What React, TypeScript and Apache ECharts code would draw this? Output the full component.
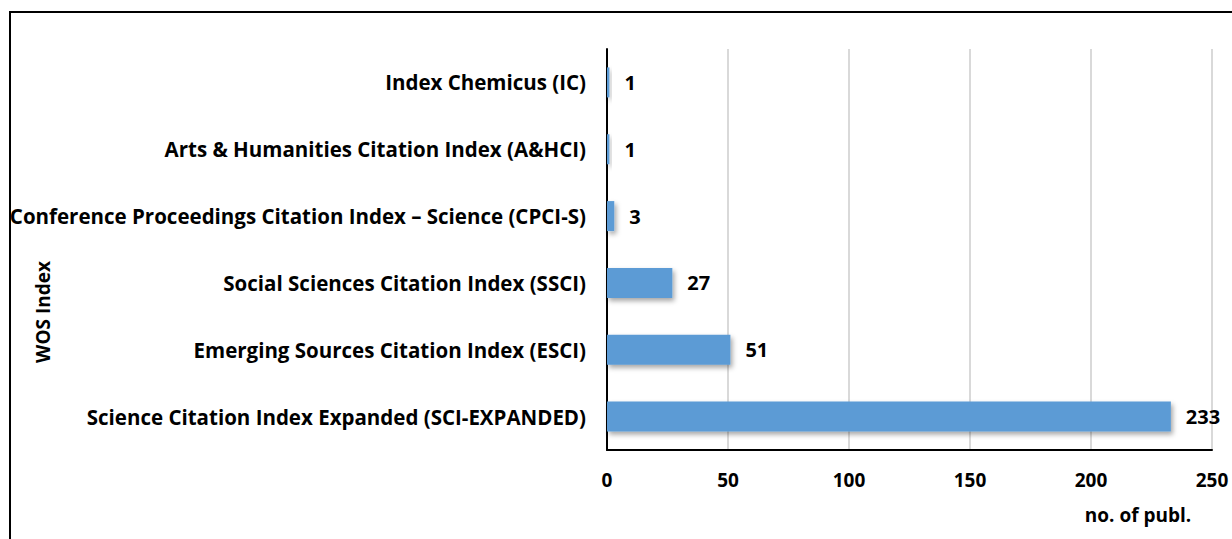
import React, { useEffect, useRef } from "react";
import * as echarts from "echarts";

const categories = [
  "Science Citation Index Expanded (SCI-EXPANDED)",
  "Emerging Sources Citation Index (ESCI)",
  "Social Sciences Citation Index (SSCI)",
  "Conference Proceedings Citation Index – Science (CPCI-S)",
  "Arts & Humanities Citation Index (A&HCI)",
  "Index Chemicus (IC)",
];
const publications = [233, 51, 27, 3, 1, 1];
const xTicks = [0, 50, 100, 150, 200, 250];

const FONT = "'Open Sans', sans-serif";
const FS = 19;

export default function App() {
  const ref = useRef<HTMLDivElement>(null);
  useEffect(() => {
    document.body.style.margin = "0";
    const chart = echarts.init(ref.current!, null, { renderer: "svg" });
    chart.setOption({
      animation: false,
      backgroundColor: "#ffffff",
      textStyle: { fontFamily: FONT },
      grid: { left: 607, right: 20, top: 49, bottom: 89, containLabel: false },
      xAxis: {
        type: "value",
        min: xTicks[0],
        max: xTicks[xTicks.length - 1],
        interval: 50,
        axisLine: { show: true, lineStyle: { color: "#000", width: 2 } },
        axisTick: { show: false },
        splitLine: { show: true, lineStyle: { color: "#d9d9d9", width: 2 } },
        axisLabel: {
          margin: 20,
          color: "#000",
          fontWeight: "bold",
          fontSize: FS,
          fontFamily: FONT,
        },
      },
      yAxis: {
        type: "category",
        data: categories,
        axisLine: { show: true, lineStyle: { color: "#000", width: 2 } },
        axisTick: { show: false },
        splitLine: { show: false },
        axisLabel: {
          margin: 21,
          color: "#000",
          fontWeight: "bold",
          fontSize: 20.5,
          fontFamily: FONT,
        },
      },
      series: [
        {
          type: "bar",
          data: publications,
          barWidth: 30,
          itemStyle: {
            color: "#5b9bd5",
            shadowColor: "rgba(0,0,0,0.35)",
            shadowBlur: 5,
            shadowOffsetX: 2,
            shadowOffsetY: 3,
          },
          label: {
            show: true,
            position: "right",
            distance: 15,
            color: "#000",
            fontWeight: "bold",
            fontSize: 20,
            fontFamily: FONT,
          },
        },
      ],
      graphic: [
        {
          type: "rect",
          shape: { x: 10, y: 12, width: 1240, height: 560 },
          style: { fill: "none", stroke: "#000", lineWidth: 2 },
          silent: true,
        },
        {
          type: "text",
          x: 43,
          y: 312,
          rotation: Math.PI / 2,
          style: {
            text: "WOS Index",
            fill: "#000",
            font: `bold ${FS}px ${FONT}`,
            align: "center",
            verticalAlign: "middle",
          },
        },
        {
          type: "text",
          x: 1138,
          y: 515,
          style: {
            text: "no. of publ.",
            fill: "#000",
            font: `bold ${FS}px ${FONT}`,
            align: "center",
            verticalAlign: "middle",
          },
        },
      ],
    });
    return () => chart.dispose();
  }, []);
  return <div ref={ref} style={{ width: 1232, height: 539 }} />;
}
